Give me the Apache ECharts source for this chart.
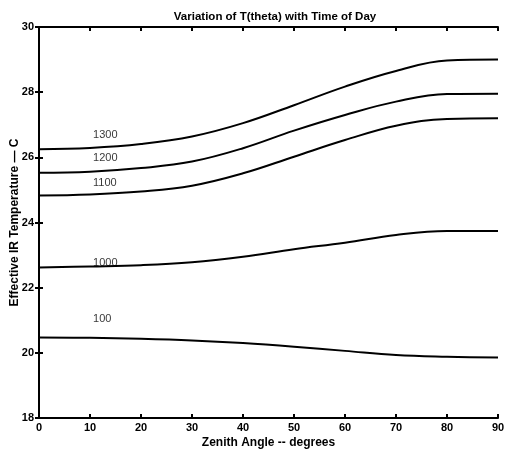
<!DOCTYPE html>
<html>
<head>
<meta charset="utf-8">
<script src="https://cdn.jsdelivr.net/npm/echarts@6/dist/echarts.min.js"></script>
<style>
  html, body { margin: 0; padding: 0; background: #fff; }
  #chart { width: 505px; height: 454px; }
</style>
</head>
<body>
<div id="chart"></div>
<script>
// zenith angle samples (degrees)
const angles = [0, 10, 20, 30, 40, 50, 60, 70, 80, 90];

// effective IR temperature (C) per time of day
const t1300 = [26.25, 26.29, 26.41, 26.64, 27.05, 27.6, 28.17, 28.65, 28.97, 29.0];
const t1200 = [25.53, 25.56, 25.67, 25.87, 26.28, 26.82, 27.3, 27.71, 27.94, 27.95];
const t1100 = [24.83, 24.86, 24.95, 25.13, 25.51, 26.02, 26.53, 26.97, 27.18, 27.2];
const t1000 = [22.62, 22.65, 22.69, 22.78, 22.95, 23.18, 23.38, 23.62, 23.74, 23.74];
const t100 = [20.47, 20.46, 20.43, 20.38, 20.3, 20.19, 20.06, 19.93, 19.88, 19.86];

const seriesNames = ['1300', '1200', '1100', '1000', '100'];
const seriesData = [t1300, t1200, t1100, t1000, t100];

// where each time label sits (angle, temperature)
const labelPos = [[10.6, 26.69], [10.6, 25.98], [10.6, 25.21], [10.6, 22.76], [10.6, 21.04]];

const font = 'Liberation Sans, Arial, sans-serif';
const tickStyle = { color: '#000', fontFamily: font, fontSize: 11, fontWeight: 'bold' };
const nameStyle = { color: '#000', fontFamily: font, fontSize: 12, fontWeight: 'bold' };

const myChart = echarts.init(document.getElementById('chart'));

const lines = seriesNames.map((name, i) => ({
  name: name,
  type: 'line',
  data: angles.map((a, j) => [a, seriesData[i][j]]),
  smooth: 0.4,
  showSymbol: false,
  lineStyle: { color: '#000', width: 2 },
  silent: true
}));

const labels = {
  type: 'scatter',
  data: seriesNames.map((n, i) => ({ value: labelPos[i], name: n })),
  symbolSize: 0,
  silent: true,
  label: {
    show: true,
    position: 'right',
    distance: 0,
    formatter: p => p.name,
    color: '#000',
    fontFamily: font,
    fontSize: 11
  }
};

const option = {
  animation: false,
  backgroundColor: '#fff',
  title: {
    text: 'Variation of T(theta) with Time of Day',
    left: 270,
    textAlign: 'center',
    top: 6,
    textStyle: { color: '#000', fontFamily: font, fontSize: 11.5, fontWeight: 'bold' }
  },
  grid: { left: 39, right: 7, top: 27, bottom: 36, outerBoundsMode: 'none', containLabel: false },
  xAxis: [
    {
      type: 'value', min: 0, max: 90, interval: 10,
      name: 'Zenith Angle -- degrees', nameLocation: 'middle', nameGap: 19,
      nameMoveOverlap: false,
      nameTextStyle: nameStyle,
      axisLine: { lineStyle: { color: '#000', width: 2 } },
      axisTick: { inside: true, length: 4, lineStyle: { color: '#000', width: 2 } },
      axisLabel: Object.assign({ margin: 4 }, tickStyle),
      splitLine: { show: false }
    },
    {
      type: 'value', min: 0, max: 90, interval: 10, position: 'top',
      axisLine: { lineStyle: { color: '#000', width: 2 } },
      axisTick: { inside: true, length: 4, lineStyle: { color: '#000', width: 2 } },
      axisLabel: { show: false },
      splitLine: { show: false }
    }
  ],
  yAxis: [
    {
      type: 'value', min: 18, max: 30, interval: 2,
      name: 'Effective IR Temperature — C', nameLocation: 'middle', nameGap: 18,
      nameMoveOverlap: false,
      nameTextStyle: nameStyle,
      axisLine: { lineStyle: { color: '#000', width: 2 } },
      axisTick: { inside: true, length: 4, lineStyle: { color: '#000', width: 2 } },
      axisLabel: Object.assign({ margin: 5 }, tickStyle),
      splitLine: { show: false }
    },
    {
      type: 'value', min: 18, max: 30, interval: 2, position: 'right',
      axisLine: { lineStyle: { color: '#000', width: 2 } },
      axisTick: { inside: true, length: 4, lineStyle: { color: '#000', width: 2 } },
      axisLabel: { show: false },
      splitLine: { show: false }
    }
  ],
  series: lines.concat([labels])
};

option && myChart.setOption(option);
</script>
</body>
</html>
